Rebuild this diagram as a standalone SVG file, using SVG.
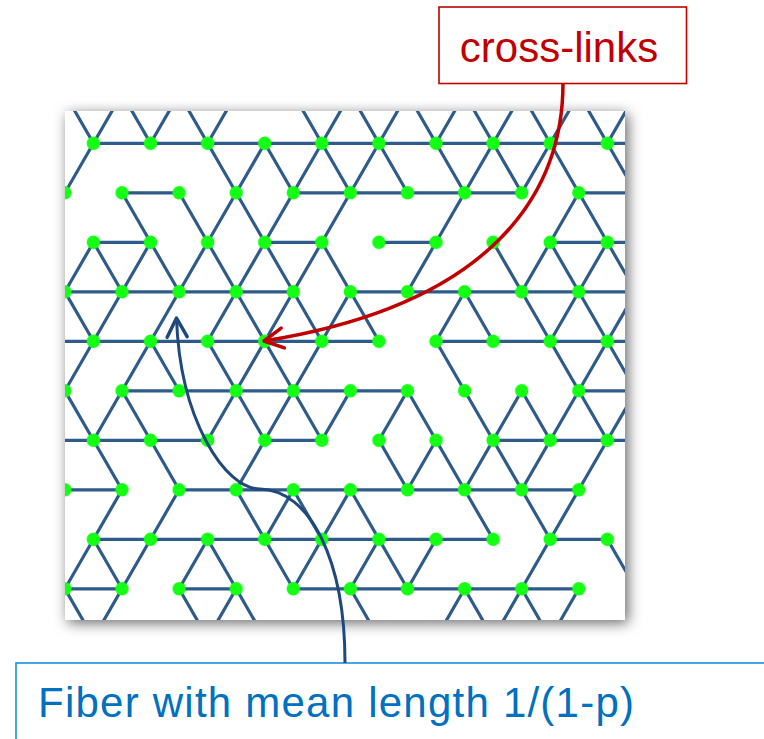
<svg xmlns="http://www.w3.org/2000/svg" width="764" height="739" viewBox="0 0 764 739">
  <style>
    .fib { fill: none; stroke: #2e5b8a; stroke-width: 3.2; vector-effect: non-scaling-stroke; }
    .lbl { font-family: "Liberation Sans", Arial, sans-serif; }
  </style>
  <defs>
    <filter id="shadow" x="-10%" y="-10%" width="120%" height="120%">
      <feDropShadow dx="3" dy="3" stdDeviation="7" flood-color="#000" flood-opacity="0.6"/>
    </filter>
    <clipPath id="panelClip">
      <rect x="65" y="111" width="560" height="509"/>
    </clipPath>
    <pattern id="dots" patternUnits="userSpaceOnUse" x="50.625" y="69.05" width="57.1" height="99">
      <circle cx="14.275" cy="24.75" r="6.7" fill="#14ff14"/>
      <circle cx="42.825" cy="74.25" r="6.7" fill="#14ff14"/>
    </pattern>
    <marker id="ahRed" viewBox="-24 -14 28 28" markerWidth="28" markerHeight="28" refX="0" refY="0" orient="auto" markerUnits="userSpaceOnUse" overflow="visible">
      <path d="M-19,-10 L0,0 L-19,10" fill="none" stroke="#c00000" stroke-width="3.5" stroke-linecap="round" stroke-linejoin="round"/>
    </marker>
    <marker id="ahBlue" viewBox="-24 -14 28 28" markerWidth="28" markerHeight="28" refX="0" refY="0" orient="auto" markerUnits="userSpaceOnUse" overflow="visible">
      <path d="M-19,-10 L0,0 L-19,10" fill="none" stroke="#1f497d" stroke-width="3.5" stroke-linecap="round" stroke-linejoin="round"/>
    </marker>
  </defs>

  <rect width="764" height="739" fill="#ffffff"/>

  <g id="lattice">
    <rect x="65" y="111" width="560" height="509" fill="#ffffff" filter="url(#shadow)"/>
    <g clip-path="url(#panelClip)">
      <g transform="matrix(28.55 0 0 49.5 64.9 143.3)">
        <path id="horizontal-fibers" class="fib" d="M1 0H21 M2 1H4 M8 1H16 M18 1H20 M1 2H3 M7 2H9 M11 2H13 M17 2H21 M-2 3H8 M10 3H20 M-1 4H11 M13 4H21 M2 5H12 M18 5H20 M-1 6H5 M7 6H9 M15 6H21 M-2 7H2 M4 7H18 M1 8H15 M17 8H19 M-2 9H2 M4 9H6 M8 9H18"/>
        <path id="diagonal-fibers" class="fib" d="M0 -1L1 0M2 -1L1 0M2 -1L3 0M4 -1L3 0M4 -1L5 0M6 -1L5 0M8 -1L9 0M10 -1L9 0M10 -1L11 0M12 -1L11 0M12 -1L13 0M14 -1L13 0M14 -1L15 0M16 -1L15 0M16 -1L17 0M18 -1L17 0M18 -1L19 0M20 -1L19 0
        M1 0L0 1M5 0L6 1M7 0L6 1M7 0L8 1M9 0L8 1M9 0L10 1M11 0L10 1M11 0L12 1M13 0L14 1M15 0L14 1M15 0L16 1M17 0L16 1M17 0L18 1M19 0L20 1
        M2 1L3 2M4 1L5 2M6 1L5 2M6 1L7 2M8 1L7 2M10 1L9 2M14 1L13 2M18 1L17 2M18 1L19 2
        M1 2L0 3M1 2L2 3M3 2L2 3M3 2L4 3M5 2L4 3M5 2L6 3M7 2L6 3M7 2L8 3M9 2L8 3M9 2L10 3M13 2L12 3M15 2L16 3M17 2L16 3M17 2L18 3M19 2L18 3M19 2L20 3
        M0 3L1 4M2 3L1 4M4 3L3 4M6 3L5 4M6 3L7 4M8 3L7 4M8 3L9 4M10 3L9 4M10 3L11 4M14 3L13 4M14 3L15 4M16 3L17 4M18 3L17 4M18 3L19 4M20 3L19 4
        M1 4L0 5M3 4L2 5M3 4L4 5M5 4L6 5M7 4L6 5M7 4L8 5M9 4L8 5M13 4L14 5M17 4L18 5M19 4L18 5M19 4L20 5
        M0 5L1 6M2 5L1 6M2 5L3 6M6 5L5 6M6 5L7 6M8 5L7 6M8 5L9 6M10 5L9 6M12 5L11 6M12 5L13 6M14 5L15 6M16 5L15 6M16 5L17 6M18 5L17 6M18 5L19 6M20 5L19 6
        M1 6L2 7M3 6L4 7M7 6L6 7M11 6L12 7M13 6L12 7M13 6L14 7M15 6L14 7M15 6L16 7M17 6L16 7M19 6L18 7
        M2 7L1 8M4 7L3 8M6 7L7 8M8 7L7 8M8 7L9 8M10 7L9 8M10 7L11 8M14 7L15 8M16 7L17 8M18 7L17 8
        M1 8L0 9M1 8L2 9M3 8L2 9M5 8L4 9M5 8L6 9M7 8L8 9M9 8L8 9M11 8L10 9M11 8L12 9M13 8L12 9M17 8L16 9M19 8L20 9
        M0 9L1 10M2 9L1 10M4 9L5 10M6 9L5 10M6 9L7 10M10 9L11 10M14 9L13 10M14 9L15 10M16 9L15 10M16 9L17 10M18 9L17 10"/>
      </g>
      <rect id="nodes" x="65" y="111" width="560" height="509" fill="url(#dots)"/>
    </g>
  </g>

  <g id="label-crosslinks">
    <rect x="439" y="7" width="247.5" height="76.5" fill="#ffffff" stroke="#c00000" stroke-width="1.6"/>
    <text class="lbl" x="559" y="62" font-size="42" fill="#c00000" text-anchor="middle">cross-links</text>
  </g>

  <g id="label-fiber">
    <rect x="16" y="663" width="770" height="100" fill="#ffffff" stroke="#1b8fe0" stroke-width="1.6"/>
    <text class="lbl" x="38" y="717" font-size="42" fill="#0070c0" textLength="596" lengthAdjust="spacing">Fiber with mean length 1/(1-p)</text>
  </g>

  <g id="connectors" fill="none">
    <path id="arrow-crosslinks" d="M563,83 C563,195 490,305 264,341" stroke="#c00000" stroke-width="3.5" marker-end="url(#ahRed)"/>
    <path id="arrow-fiber" d="M345,663 C345,560 310,490 260,489 C225,489 180,420 176.5,318" stroke="#1f497d" stroke-width="3" marker-end="url(#ahBlue)"/>
  </g>
</svg>
